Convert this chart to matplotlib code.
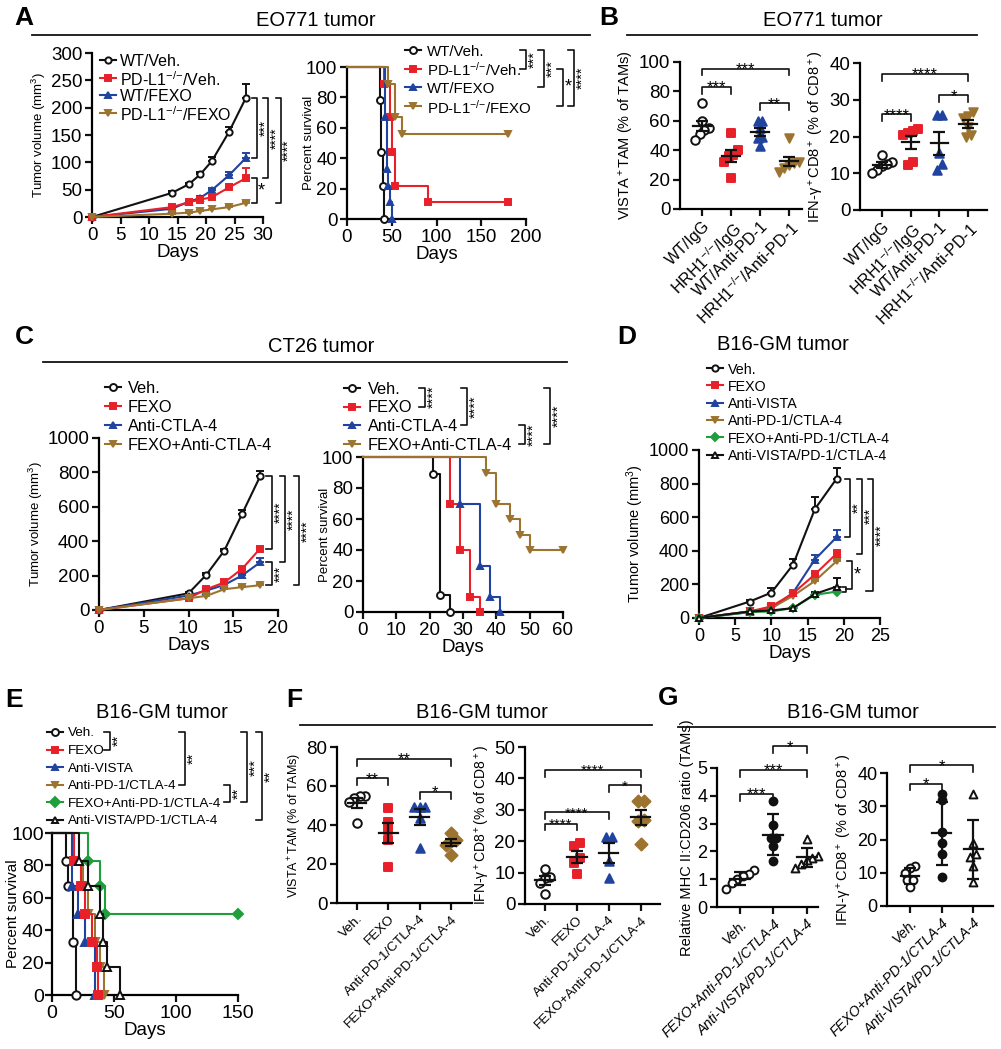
import numpy as np
import matplotlib
matplotlib.use("Agg")
import matplotlib.pyplot as plt

W, H = 1001, 1049
FONT = "Liberation Sans"

plt.rcParams["font.family"] = [FONT, "DejaVu Sans"]
plt.rcParams["mathtext.fontset"] = "custom"
plt.rcParams["mathtext.rm"] = FONT
plt.rcParams["mathtext.it"] = FONT + ":italic"
plt.rcParams["mathtext.default"] = "regular"
plt.rcParams["axes.unicode_minus"] = False

BLACK = "#111111"
RED = "#e8202a"
BLUE = "#2143a0"
BROWN = "#9c7430"
GREEN = "#1f9e3c"

KO = "$^{{-}/{-}}$"

# --- A: EO771 tumor growth (mean, upper SEM) ---
a_days = [0, 14, 17, 19, 21, 24, 27]
a_wt_veh = [0, 44, 60, 78, 102, 155, 218]
a_wt_veh_se = [0, 3, 3, 4, 7, 10, 25]
a_ko_veh = [0, 18, 27, 32, 36, 54, 71]
a_ko_veh_se = [0, 2, 3, 3, 4, 6, 18]
a_wt_fexo = [0, 15, 28, 35, 49, 76, 108]
a_wt_fexo_se = [0, 2, 2, 3, 4, 6, 9]
a_ko_fexo = [0, 6, 8, 11, 14, 18, 26]
a_ko_fexo_se = [0, 1, 1, 1, 1, 2, 3]
a_labels = ["WT/Veh.", "PD-L1" + KO + "/Veh.", "WT/FEXO", "PD-L1" + KO + "/FEXO"]

# --- A: EO771 survival ---
as_wt_veh_t = [0, 37, 38, 40, 41]
as_wt_veh = [100, 78, 44, 22, 0]
as_ko_veh_t = [0, 41, 48, 50, 54, 91, 180]
as_ko_veh = [100, 89, 67, 44, 22, 11, 11]
as_wt_fexo_t = [0, 42, 45, 46, 48, 50]
as_wt_fexo = [100, 67, 33, 22, 11, 0]
as_ko_fexo_t = [0, 46, 54, 62, 180]
as_ko_fexo = [100, 89, 67, 56, 56]

# --- B: EO771 flow ---
b_groups = ["WT/IgG", "HRH1" + KO + "/IgG", "WT/Anti-PD-1", "HRH1" + KO + "/Anti-PD-1"]
b_vista = [[72, 60, 55, 54, 51, 47], [52, 40, 37, 36, 32, 21],
           [60, 60, 55, 49, 48, 43], [48, 32, 31, 30, 28, 25]]
b_ifng = [[15, 13, 12.5, 12, 11, 10], [22, 21.5, 21, 20.5, 13, 12.3],
          [25.8, 25.8, 15.6, 12.5, 11], [26.8, 25.7, 25, 22.5, 20.5, 20]]

# --- C: CT26 growth ---
c_days = [0, 10, 12, 14, 16, 18]
c_veh = [0, 97, 205, 345, 560, 777]
c_veh_se = [0, 8, 10, 12, 20, 30]
c_fexo = [0, 68, 121, 160, 240, 357]
c_fexo_se = [0, 5, 8, 10, 12, 12]
c_ctla = [0, 84, 113, 146, 201, 277]
c_ctla_se = [0, 5, 8, 10, 15, 25]
c_combo = [0, 68, 82, 121, 133, 144]
c_combo_se = [0, 4, 5, 6, 8, 8]
c_labels = ["Veh.", "FEXO", "Anti-CTLA-4", "FEXO+Anti-CTLA-4"]

# --- C: CT26 survival ---
cs_veh_t = [0, 21, 23, 26]
cs_veh = [100, 89, 11, 0]
cs_fexo_t = [0, 26, 29, 32, 35]
cs_fexo = [100, 70, 40, 10, 0]
cs_ctla_t = [0, 29, 35, 38, 41]
cs_ctla = [100, 70, 30, 10, 0]
cs_combo_t = [0, 37, 40, 44, 47, 50, 60]
cs_combo = [100, 90, 70, 60, 50, 40, 40]

# --- D: B16-GM growth ---
d_days = [0, 7, 10, 13, 16, 19]
d_veh = [0, 98, 151, 318, 648, 829]
d_veh_se = [0, 8, 25, 35, 70, 65]
d_fexo = [0, 39, 69, 147, 259, 383]
d_fexo_se = [0, 5, 8, 10, 15, 20]
d_vista = [0, 35, 55, 151, 348, 481]
d_vista_se = [0, 4, 6, 10, 25, 40]
d_pd1 = [0, 39, 59, 132, 220, 338]
d_pd1_se = [0, 4, 5, 8, 10, 12]
d_fexo_pd1 = [0, 35, 39, 59, 138, 157]
d_fexo_pd1_se = [0, 3, 4, 6, 10, 12]
d_vista_pd1 = [0, 39, 45, 59, 143, 187]
d_vista_pd1_se = [0, 3, 4, 6, 10, 50]
d_labels = ["Veh.", "FEXO", "Anti-VISTA", "Anti-PD-1/CTLA-4",
            "FEXO+Anti-PD-1/CTLA-4", "Anti-VISTA/PD-1/CTLA-4"]

# --- E: B16-GM survival ---
es_veh_t = [0, 11, 13, 17, 19]
es_veh = [100, 83, 67, 33, 0]
es_fexo_t = [0, 18, 23, 27, 32, 36, 37]
es_fexo = [100, 83, 67, 50, 33, 17, 0]
es_vista_t = [0, 16, 21, 27, 35]
es_vista = [100, 67, 50, 33, 0]
es_pd1_t = [0, 18, 25, 29, 35, 39, 42]
es_pd1 = [100, 83, 67, 50, 33, 17, 0]
es_fexo_pd1_t = [0, 29, 39, 43, 150]
es_fexo_pd1 = [100, 83, 67, 50, 50]
es_vista_pd1_t = [0, 22, 29, 39, 41, 44, 55]
es_vista_pd1 = [100, 83, 67, 50, 33, 17, 0]

# --- F: B16-GM flow ---
f_groups = ["Veh.", "FEXO", "Anti-PD-1/CTLA-4", "FEXO+Anti-PD-1/CTLA-4"]
f_vista = [[55, 55, 54, 52, 41], [48.5, 41.7, 37.5, 32.4, 18.7],
           [49.4, 49.4, 49.4, 43.4, 28.4], [36, 32.4, 31.9, 29.8, 24.7]]
f_ifng = [[11, 8.7, 8.2, 6.6, 3.1], [19.3, 18.4, 14.5, 12.9, 9.7],
          [21.4, 21.4, 13.8, 8.2], [32.7, 32.7, 26.9, 26.5, 19]]

# --- G: B16-GM flow (mean, SD) ---
g_groups = ["Veh.", "FEXO+Anti-PD-1/CTLA-4", "Anti-VISTA/PD-1/CTLA-4"]
g_ratio = [[1.33, 1.2, 1.1, 1.0, 0.85, 0.65], [3.83, 2.95, 2.5, 2.47, 2.2, 1.66],
           [2.43, 1.85, 1.75, 1.7, 1.55, 1.42]]
g_ifng = [[12, 11.3, 10, 7.8, 7.8, 5.6], [31.8, 33.6, 22.3, 18.8, 15.6, 8.8],
          [33.6, 18.8, 15.5, 14.8, 12, 7.3]]

# marker styles
S_VEH = dict(c=BLACK, m="o", mfc="white")
S_RED = dict(c=RED, m="s", mfc=RED)
S_BLUE = dict(c=BLUE, m="^", mfc=BLUE)
S_BROWN = dict(c=BROWN, m="v", mfc=BROWN)
S_GREEN = dict(c=GREEN, m="D", mfc=GREEN)
S_TRI = dict(c=BLACK, m="^", mfc="white")
S_DOT = dict(c=BLACK, m="o", mfc=BLACK)

fig = plt.figure(figsize=(W / 100, H / 100), dpi=100)
ov = fig.add_axes([0, 0, 1, 1], zorder=10)
ov.set_xlim(0, W)
ov.set_ylim(H, 0)
ov.axis("off")


def px_axes(x0, y0, x1, y1):
    return fig.add_axes([x0 / W, 1 - y1 / H, (x1 - x0) / W, (y1 - y0) / H])


def style(ax, fs):
    for s in ("top", "right"):
        ax.spines[s].set_visible(False)
    for s in ("left", "bottom"):
        ax.spines[s].set_linewidth(1.6)
    ax.tick_params(width=1.6, length=5, labelsize=fs, pad=2, color=BLACK)


def ylabel_at(ax, text, fs, x_px):
    # put the right edge of the rotated y label at pixel column x_px
    ax.set_ylabel(text, fontsize=fs)
    x0 = ax.get_position().x0 * W
    ax.yaxis.set_label_coords((x_px - x0) / (ax.get_position().width * W), 0.5)


def growth(ax, x, y, se, st, ms=4.5):
    cont = ax.errorbar(x, y, yerr=[np.zeros(len(se)), se], color=st["c"], lw=1.5,
                       elinewidth=1.4, capsize=3, capthick=1.4, marker=st["m"], ms=ms,
                       mfc=st["mfc"], mec=st["c"], mew=1.4, zorder=3)
    for art in cont.get_children():
        art.set_clip_on(False)


def survival(ax, t, s, st, ms=5):
    ax.plot(t, s, drawstyle="steps-post", color=st["c"], lw=1.5, marker=st["m"], ms=ms,
            mfc=st["mfc"], mec=st["c"], mew=1.4, markevery=list(range(1, len(t))),
            clip_on=False, zorder=3)


def swarm(v, thr, step):
    order = np.argsort(v)
    off = np.zeros(len(v))
    groups, cur = [], [order[0]]
    for a, b in zip(order[:-1], order[1:]):
        if v[b] - v[a] < thr:
            cur.append(b)
        else:
            groups.append(cur)
            cur = [b]
    groups.append(cur)
    for g in groups:
        off[g] = (np.arange(len(g)) - (len(g) - 1) / 2) * step
    return off


def dotplot(ax, groups, styles, top, use_sd=False, s=38):
    for i, (vals, st) in enumerate(zip(groups, styles)):
        v = np.asarray(vals, float)
        off = swarm(v, 0.045 * top, 0.17)
        ax.scatter(i + off, v, marker=st["m"], s=s, facecolors=st["mfc"], edgecolors=st["c"],
                   linewidths=1.4, clip_on=False, zorder=3)
        m = v.mean()
        e = v.std(ddof=1) if use_sd else v.std(ddof=1) / np.sqrt(len(v))
        ax.plot([i - 0.3, i + 0.3], [m, m], color=BLACK, lw=1.6, zorder=4)
        ax.errorbar([i], [m], yerr=[e], fmt="none", ecolor=BLACK, elinewidth=1.6,
                    capsize=4, capthick=1.6, zorder=4)


def cat_ticks(ax, labels, fs, italic=False):
    ax.set_xticks(range(len(labels)))
    ax.set_xticklabels(labels, rotation=45, ha="right", rotation_mode="anchor", fontsize=fs,
                       fontstyle="italic" if italic else "normal")


def hbracket(ax, i, j, y, leg, text, fs=12):
    ax.plot([i, i, j, j], [y - leg, y, y, y - leg], color=BLACK, lw=1.2, clip_on=False)
    ax.annotate(text, (0.5 * (i + j), y), xytext=(0, -0.33 * fs), textcoords="offset points",
                ha="center", va="baseline", fontsize=fs, annotation_clip=False)


def vbracket(ax, x, y0, y1, text, stub0, stub1=None, rot=90, fs=10):
    if stub1 is None:
        stub1 = stub0
    ax.plot([x - stub0, x, x, x - stub1], [y0, y0, y1, y1], color=BLACK, lw=1.2, clip_on=False)
    ax.annotate(text, (x, 0.5 * (y0 + y1)), xytext=(1.0, 0), textcoords="offset points",
                rotation=rot, ha="left", va="center", fontsize=fs, annotation_clip=False)


def px_bracket(x, y0, y1, text, rot=90, fs=10.5, stub=6):
    ov.plot([x - stub, x, x, x - stub], [y0, y0, y1, y1], color=BLACK, lw=1.2)
    ov.text(x + 2, 0.5 * (y0 + y1), text, rotation=rot, ha="left", va="center", fontsize=fs)


def legend_rows(xm, xt, y0, dy, labels, styles, fs, ms=5, half=8):
    rows = []
    for k, (lab, st) in enumerate(zip(labels, styles)):
        y = y0 + k * dy
        ov.plot([xm - half, xm + half], [y, y], color=st["c"], lw=1.5)
        ov.plot([xm], [y], marker=st["m"], ms=ms, mfc=st["mfc"], mec=st["c"], mew=1.4)
        ov.text(xt, y, lab, ha="left", va="center_baseline", fontsize=fs)
        rows.append(y)
    return rows


def header(letter, lx, ly, title, tx, ty, line=None):
    ov.text(lx, ly, letter, ha="center", va="center", fontsize=19, fontweight="bold")
    ov.text(tx, ty, title, ha="center", va="center", fontsize=14.5)
    if line is not None:
        ov.plot([line[0], line[1]], [line[2], line[2]], color=BLACK, lw=1.3)


DAYS_FS = 13.5

# ================= A =================
header("A", 24, 18, "EO771 tumor", 316, 20, (32, 590, 35))
ax = px_axes(92, 53, 263, 217)
growth(ax, a_days, a_wt_veh, a_wt_veh_se, S_VEH)
growth(ax, a_days, a_wt_fexo, a_wt_fexo_se, S_BLUE)
growth(ax, a_days, a_ko_veh, a_ko_veh_se, S_RED)
growth(ax, a_days, a_ko_fexo, a_ko_fexo_se, S_BROWN)
ax.set_xlim(0, 30)
ax.set_ylim(0, 300)
ax.set_xticks(range(0, 31, 5))
ax.set_yticks(range(0, 301, 50))
style(ax, 13.5)
ax.set_ylabel("Tumor volume (mm$^3$)", fontsize=9.5, labelpad=2)
ax.set_xlabel("Days", fontsize=DAYS_FS, labelpad=0)
vbracket(ax, 28.9, a_wt_veh[-1], a_wt_fexo[-1], "***", 0.9)
vbracket(ax, 30.9, a_wt_veh[-1], a_ko_veh[-1], "****", 0.9)
vbracket(ax, 28.9, a_ko_veh[-1], a_ko_fexo[-1], "*", 0.9, rot=0, fs=13)
vbracket(ax, 33.1, a_wt_veh[-1], a_ko_fexo[-1], "****", 0.9)
legend_rows(108, 120, 60, 17.7, a_labels, [S_VEH, S_RED, S_BLUE, S_BROWN], 11.5, ms=4.5)

ax = px_axes(347, 67, 526, 219)
survival(ax, as_wt_veh_t, as_wt_veh, S_VEH)
survival(ax, as_ko_veh_t, as_ko_veh, S_RED)
survival(ax, as_wt_fexo_t, as_wt_fexo, S_BLUE)
survival(ax, as_ko_fexo_t, as_ko_fexo, S_BROWN)
ax.set_xlim(0, 200)
ax.set_ylim(0, 100)
ax.set_xticks(range(0, 201, 50))
ax.set_yticks(range(0, 101, 20))
style(ax, 13.5)
ylabel_at(ax, "Percent survival", 9.5, 315)
ax.set_xlabel("Days", fontsize=DAYS_FS, labelpad=0)
r = legend_rows(413, 427, 50, 18.7, a_labels, [S_VEH, S_RED, S_BLUE, S_BROWN], 10.8)
px_bracket(526, r[0], r[1], "***")
px_bracket(544, r[0], r[2], "***")
px_bracket(563, r[1], r[3], "*", rot=0, fs=13)
px_bracket(574, r[0], r[3], "****")

# ================= B =================
header("B", 609, 18, "EO771 tumor", 823, 20, (627, 977, 35))
b_styles = [S_VEH, S_RED, S_BLUE, S_BROWN]
ax = px_axes(680, 62, 802, 209)
dotplot(ax, b_vista, b_styles, 100)
ax.set_xlim(-0.76, 3.45)
ax.set_ylim(0, 100)
ax.set_yticks(range(0, 101, 20))
style(ax, 13.5)
cat_ticks(ax, b_groups, 11.5)
ax.set_ylabel("VISTA$^+$TAM (% of TAMs)", fontsize=10.5, labelpad=2)
hbracket(ax, 0, 3, 95.5, 4.5, "***")
hbracket(ax, 0, 1, 83, 4.5, "***")
hbracket(ax, 2, 3, 72, 4.5, "**")

ax = px_axes(860, 63, 987, 210)
dotplot(ax, b_ifng, b_styles, 40)
ax.set_xlim(-0.77, 3.66)
ax.set_ylim(0, 40)
ax.set_yticks(range(0, 41, 10))
style(ax, 13.5)
cat_ticks(ax, b_groups, 11.5)
ax.set_ylabel("IFN-γ$^+$CD8$^+$ (% of CD8$^+$)", fontsize=10.5, labelpad=2)
hbracket(ax, 0, 3, 37, 1.8, "****")
hbracket(ax, 0, 1, 26, 1.8, "****")
hbracket(ax, 2, 3, 31.2, 1.8, "*")

# ================= C =================
header("C", 24, 337, "CT26 tumor", 321, 347, (43, 567, 362))
ax = px_axes(99, 438, 278, 610)
growth(ax, c_days, c_veh, c_veh_se, S_VEH)
growth(ax, c_days, c_ctla, c_ctla_se, S_BLUE)
growth(ax, c_days, c_fexo, c_fexo_se, S_RED)
growth(ax, c_days, c_combo, c_combo_se, S_BROWN)
ax.set_xlim(0, 20)
ax.set_ylim(0, 1000)
ax.set_xticks(range(0, 21, 5))
ax.set_yticks(range(0, 1001, 200))
style(ax, 13.5)
ax.set_ylabel("Tumor volume (mm$^3$)", fontsize=9.5, labelpad=2)
ax.set_xlabel("Days", fontsize=DAYS_FS, labelpad=0)
vbracket(ax, 19.3, c_veh[-1], c_fexo[-1], "****", 0.6)
vbracket(ax, 20.8, c_veh[-1], c_ctla[-1], "****", 0.6)
vbracket(ax, 19.3, c_ctla[-1], c_combo[-1], "***", 0.6)
vbracket(ax, 22.4, c_veh[-1], c_combo[-1], "****", 0.6)
legend_rows(113, 128, 387, 19, c_labels, [S_VEH, S_RED, S_BLUE, S_BROWN], 11.8)

ax = px_axes(363, 457, 563, 612)
survival(ax, cs_veh_t, cs_veh, S_VEH)
survival(ax, cs_fexo_t, cs_fexo, S_RED)
survival(ax, cs_ctla_t, cs_ctla, S_BLUE)
survival(ax, cs_combo_t, cs_combo, S_BROWN)
ax.set_xlim(0, 60)
ax.set_ylim(0, 100)
ax.set_xticks(range(0, 61, 10))
ax.set_yticks(range(0, 101, 20))
style(ax, 13.5)
ylabel_at(ax, "Percent survival", 9.5, 331)
ax.set_xlabel("Days", fontsize=DAYS_FS, labelpad=0)
r = legend_rows(352, 368, 388, 18.5, c_labels, [S_VEH, S_RED, S_BLUE, S_BROWN], 11.8)
px_bracket(425, r[0], r[1], "****")
px_bracket(467, r[0], r[2], "****")
px_bracket(525, r[2], r[3], "****")
px_bracket(550, r[0], r[3], "****")

# ================= D =================
ov.text(627, 337, "D", ha="center", va="center", fontsize=19, fontweight="bold")
ov.text(783, 345, "B16-GM tumor", ha="center", va="center", fontsize=14.5)
d_styles = [S_VEH, S_RED, S_BLUE, S_BROWN, S_GREEN, S_TRI]
ax = px_axes(699, 450, 880, 618)
growth(ax, d_days, d_veh, d_veh_se, S_VEH)
growth(ax, d_days, d_vista, d_vista_se, S_BLUE)
growth(ax, d_days, d_pd1, d_pd1_se, S_BROWN)
growth(ax, d_days, d_fexo, d_fexo_se, S_RED, ms=5)
growth(ax, d_days, d_fexo_pd1, d_fexo_pd1_se, S_GREEN, ms=4)
growth(ax, d_days, d_vista_pd1, d_vista_pd1_se, S_TRI)
ax.set_xlim(0, 25)
ax.set_ylim(0, 1000)
ax.set_xticks(range(0, 26, 5))
ax.set_yticks(range(0, 1001, 200))
style(ax, 13)
ax.set_ylabel("Tumor volume (mm$^3$)", fontsize=10.5, labelpad=2)
ax.set_xlabel("Days", fontsize=DAYS_FS, labelpad=0)
vbracket(ax, 20.9, d_veh[-1], d_vista[-1], "**", 0.7)
vbracket(ax, 22.5, d_veh[-1], d_fexo[-1], "***", 0.7)
low_mid = 0.5 * (d_vista_pd1[-1] + d_fexo_pd1[-1])
vbracket(ax, 20.3, d_vista_pd1[-1], d_fexo_pd1[-1], "", 0.5)
vbracket(ax, 21.2, d_pd1[-1], low_mid, "*", 0.7, 0.9, rot=0, fs=13)
vbracket(ax, 24.0, d_veh[-1], low_mid - 10, "****", 0.7, 0.9)
legend_rows(715, 728, 368, 17.3, d_labels, d_styles, 10.3, ms=4.5)

# ================= E =================
ov.text(14, 700, "E", ha="center", va="center", fontsize=19, fontweight="bold")
ov.text(162, 712, "B16-GM tumor", ha="center", va="center", fontsize=14.5)
ax = px_axes(52, 833, 238, 995)
survival(ax, es_veh_t, es_veh, S_VEH, ms=6)
survival(ax, es_vista_t, es_vista, S_BLUE, ms=6)
survival(ax, es_pd1_t, es_pd1, S_BROWN, ms=6)
survival(ax, es_fexo_t, es_fexo, S_RED, ms=6)
survival(ax, es_fexo_pd1_t, es_fexo_pd1, S_GREEN, ms=5)
survival(ax, es_vista_pd1_t, es_vista_pd1, S_TRI, ms=6)
ax.set_xlim(0, 150)
ax.set_ylim(0, 100)
ax.set_xticks(range(0, 151, 50))
ax.set_yticks(range(0, 101, 20))
style(ax, 14)
ax.tick_params(axis="y", pad=1)
ylabel_at(ax, "Percent survival", 11, 20)
ax.set_xlabel("Days", fontsize=DAYS_FS, labelpad=0)
r = legend_rows(55, 68, 732, 17.6, d_labels, d_styles, 9.7, ms=5)
px_bracket(110, r[0], r[1], "**")
px_bracket(185, r[0], r[3], "**")
px_bracket(230, r[3], r[4], "**")
px_bracket(247, r[0], r[4], "***")
px_bracket(262, r[0], r[5], "**")

# ================= F =================
header("F", 294, 700, "B16-GM tumor", 482, 712, (300, 652, 725))
f_styles = [S_VEH, S_RED, S_BLUE, dict(c=BROWN, m="D", mfc=BROWN)]
ax = px_axes(337, 747, 472, 903)
dotplot(ax, f_vista, f_styles, 80)
ax.set_xlim(-0.64, 3.67)
ax.set_ylim(0, 80)
ax.set_yticks(range(0, 81, 20))
style(ax, 13.5)
cat_ticks(ax, f_groups, 9.7)
ax.set_ylabel("VISTA$^+$TAM (% of TAMs)", fontsize=9, labelpad=2)
hbracket(ax, 0, 3, 74, 3.5, "**")
hbracket(ax, 0, 1, 64, 3.5, "**")
hbracket(ax, 2, 3, 57, 3.5, "*")

ax = px_axes(525, 747, 660, 904)
dotplot(ax, f_ifng, f_styles, 50)
ax.set_xlim(-0.625, 3.6)
ax.set_ylim(0, 50)
ax.set_yticks(range(0, 51, 10))
style(ax, 13.5)
cat_ticks(ax, f_groups, 9.7)
ax.set_ylabel("IFN-γ$^+$CD8$^+$(% of CD8$^+$)", fontsize=10, labelpad=2)
hbracket(ax, 0, 3, 42.6, 2.2, "****", fs=11)
hbracket(ax, 2, 3, 37.8, 2.2, "*", fs=11)
hbracket(ax, 0, 2, 29.2, 2.2, "****", fs=11)
hbracket(ax, 0, 1, 25.6, 2.0, "****", fs=11)

# ================= G =================
header("G", 668, 698, "B16-GM tumor", 853, 713, (678, 995, 727))
g_styles = [S_VEH, S_DOT, S_TRI]
ax = px_axes(717, 768, 818, 907)
dotplot(ax, g_ratio, g_styles, 5, use_sd=True, s=32)
ax.set_xlim(-0.69, 2.34)
ax.set_ylim(0, 5)
ax.set_yticks(range(0, 6))
style(ax, 13)
cat_ticks(ax, g_groups, 10.2, italic=True)
ax.set_ylabel("Relative MHC II:CD206 ratio (TAMs)", fontsize=10.5, labelpad=2)
hbracket(ax, 0, 1, 4.07, 0.25, "***")
hbracket(ax, 0, 2, 4.94, 0.25, "***")
hbracket(ax, 1, 2, 5.78, 0.25, "*")

ax = px_axes(887, 773, 993, 906)
dotplot(ax, g_ifng, g_styles, 40, use_sd=True, s=32)
ax.set_xlim(-0.73, 2.63)
ax.set_ylim(0, 40)
ax.set_yticks(range(0, 41, 10))
style(ax, 13)
cat_ticks(ax, g_groups, 10.2, italic=True)
ax.set_ylabel("IFN-γ$^+$CD8$^+$ (% of CD8$^+$)", fontsize=10.5, labelpad=2)
hbracket(ax, 0, 1, 36.8, 2, "*")
hbracket(ax, 0, 2, 42.3, 2, "*")

fig.savefig("out.png", dpi=100)
